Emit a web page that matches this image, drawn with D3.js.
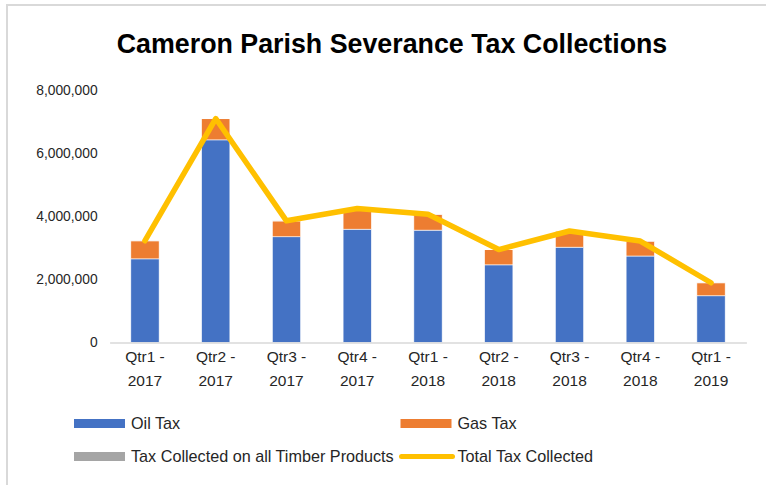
<!DOCTYPE html>
<html>
<head>
<meta charset="utf-8">
<script src="https://cdn.jsdelivr.net/npm/d3@7"></script>
<style>
html,body{margin:0;padding:0;background:#fff;}
svg{display:block;font-family:Arial,"Liberation Sans",sans-serif;}
</style>
</head>
<body>
<svg id="chart" width="766" height="485"></svg>
<script>
const categories = ["Qtr1 - 2017","Qtr2 - 2017","Qtr3 - 2017","Qtr4 - 2017","Qtr1 - 2018","Qtr2 - 2018","Qtr3 - 2018","Qtr4 - 2018","Qtr1 - 2019"];
const oilTax =    [2650000, 6420000, 3350000, 3590000, 3560000, 2460000, 3020000, 2740000, 1480000];
const gasTax =    [ 570000,  670000,  500000,  650000,  500000,  480000,  510000,  470000,  410000];
const timberTax = [   4000,    6000,    5000,    3000,    4000,    5000,    3000,    4000,    3000];
const totalTax =  [3224000, 7096000, 3855000, 4243000, 4064000, 2945000, 3533000, 3214000, 1893000];
const yTicks = [0, 2000000, 4000000, 6000000, 8000000];
const seriesNames = ["Oil Tax","Gas Tax","Tax Collected on all Timber Products","Total Tax Collected"];
const colors = ["#4472C4","#ED7D31","#A5A5A5","#FFC000"];

const svg = d3.select("#chart");

// chart border
svg.append("rect").attr("x",7).attr("y",5).attr("width",800).attr("height",500)
  .attr("fill","#fff").attr("stroke","#D9D9D9").attr("stroke-width",2);

svg.append("text").attr("x",392).attr("y",53).attr("text-anchor","middle")
  .attr("font-size","26.8px").attr("font-weight","bold").attr("fill","#000")
  .text("Cameron Parish Severance Tax Collections");

const x = d3.scaleBand().domain(categories).range([109.6, 746.4]).paddingInner(0.6).paddingOuter(0.3);
const y = d3.scaleLinear().domain([0, 8000000]).range([342.5, 90]);

// y axis labels
const yAxis = d3.axisLeft(y).tickValues(yTicks).tickSize(0).tickPadding(12)
  .tickFormat(d3.format(","));
const gy = svg.append("g").attr("transform","translate(109.6,0)").call(yAxis);
gy.select(".domain").remove();
gy.selectAll("text").attr("font-size","13.8px").attr("fill","#262626").attr("font-family","Arial, 'Liberation Sans', sans-serif");

// stacked bars
const rows = categories.map((c,i)=>({cat:c, oil:oilTax[i], gas:gasTax[i], timber:timberTax[i]}));
const stack = d3.stack().keys(["oil","gas","timber"])(rows);
stack.forEach((layer,li)=>{
  svg.append("g").selectAll("rect").data(layer).join("rect")
    .attr("x", d=>x(d.data.cat))
    .attr("width", x.bandwidth())
    .attr("y", d=>y(d[1]))
    .attr("height", d=>y(d[0])-y(d[1]))
    .attr("fill", colors[li])
    .attr("stroke","#fff").attr("stroke-width",0.6);
});

// x axis baseline
const xAxis = d3.axisBottom(x).tickSize(0).tickFormat("");
const gx = svg.append("g").attr("transform","translate(0,342.5)").call(xAxis);
gx.select(".domain").attr("stroke","#D9D9D9").attr("stroke-width",1.5);

// x labels two lines
const xl = svg.append("g").selectAll("text").data(categories).join("text")
  .attr("text-anchor","middle").attr("font-size","15.5px").attr("fill","#262626");
xl.each(function(d){
  const parts = d.split(" - ");
  const t = d3.select(this);
  t.append("tspan").attr("x", x(d)+x.bandwidth()/2).attr("y",362).text(parts[0]+" -");
  t.append("tspan").attr("x", x(d)+x.bandwidth()/2).attr("y",386).text(parts[1]);
});

// total line
const line = d3.line().x((d,i)=>x(categories[i])+x.bandwidth()/2).y(d=>y(d));
svg.append("path").datum(totalTax).attr("d",line).attr("fill","none")
  .attr("stroke",colors[3]).attr("stroke-width",5.5)
  .attr("stroke-linejoin","round").attr("stroke-linecap","round");

// legend
const legend = [
  {name:seriesNames[0], color:colors[0], type:"rect", x:74, y:423.5},
  {name:seriesNames[1], color:colors[1], type:"rect", x:400.5, y:423.5},
  {name:seriesNames[2], color:colors[2], type:"rect", x:74, y:456.5},
  {name:seriesNames[3], color:colors[3], type:"line", x:400.5, y:456.5}
];
const lg = svg.append("g").selectAll("g").data(legend).join("g");
lg.each(function(d){
  const g = d3.select(this);
  if(d.type==="rect"){
    g.append("rect").attr("x",d.x).attr("y",d.y-4.5).attr("width",51).attr("height",9).attr("fill",d.color);
  } else {
    g.append("line").attr("x1",d.x+1).attr("x2",d.x+52).attr("y1",d.y).attr("y2",d.y)
      .attr("stroke",d.color).attr("stroke-width",5).attr("stroke-linecap","round");
  }
  g.append("text").attr("x",d.x+57).attr("y",d.y+5.5).attr("font-size","16.2px").attr("fill","#262626").text(d.name);
});
</script>
</body>
</html>
